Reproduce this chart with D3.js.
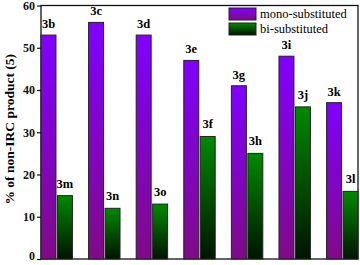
<!DOCTYPE html>
<html><head><meta charset="utf-8">
<script src="https://cdn.jsdelivr.net/npm/d3@7"></script>
<style>html,body{margin:0;padding:0;background:#fff;}svg{display:block;}</style>
</head><body>
<svg id="c" width="360" height="265"></svg>
<script>
const monoLabels = ["3b","3c","3d","3e","3g","3i","3k"];
const biLabels   = ["3m","3n","3o","3f","3h","3j","3l"];
const monoValues = [53,56,53,47,41,48,37];
const biValues   = [15,12,13,29,25,36,16];
const yTicks = [0,10,20,30,40,50,60];
const seriesNames = ["mono-substituted","bi-substituted"];
const yTitle = "% of non-IRC product (5)";

const svg = d3.select("#c");
const L = 41, R = 358, T = 5.5, B = 259;
const font = "'Liberation Serif','Times New Roman',serif";

const defs = svg.append("defs");
function grad(id, c1, c2){
  const g = defs.append("linearGradient").attr("id", id).attr("x1",0).attr("y1",0).attr("x2",0).attr("y2",1);
  g.append("stop").attr("offset","0%").attr("stop-color",c1);
  g.append("stop").attr("offset","100%").attr("stop-color",c2);
}
grad("gm", "#8000ff", "#800a88");
grad("gb", "#008a00", "#001400");

const x = d3.scaleBand().domain(d3.range(monoValues.length)).range([L, R]).paddingInner(0.34).paddingOuter(0);
const y = d3.scaleLinear().domain([0, 60]).range([B, T]);
const bw = x.bandwidth();
const barW = (bw - 1.5) / 2;

// frame
svg.append("rect").attr("x", L).attr("y", T).attr("width", R - L).attr("height", B - T)
  .attr("fill", "none").attr("stroke", "#111").attr("stroke-width", 1.3);

const g = svg.append("g");
g.selectAll(".m").data(monoValues).join("rect")
  .attr("x", (d,i) => x(i)).attr("y", d => y(d))
  .attr("width", barW).attr("height", d => B - y(d))
  .attr("fill", "url(#gm)").attr("stroke", "#222").attr("stroke-width", 1);
g.selectAll(".b").data(biValues).join("rect")
  .attr("x", (d,i) => x(i) + barW + 1.5).attr("y", d => y(d))
  .attr("width", barW).attr("height", d => B - y(d))
  .attr("fill", "url(#gb)").attr("stroke", "#222").attr("stroke-width", 1);

// labels
g.selectAll(".ml").data(monoValues).join("text")
  .attr("x", (d,i) => x(i) + barW/2).attr("y", d => y(d) - 7)
  .attr("text-anchor","middle").attr("font-family", font).attr("font-weight","bold").attr("font-size", 12.5)
  .text((d,i) => monoLabels[i]);
g.selectAll(".bl").data(biValues).join("text")
  .attr("x", (d,i) => x(i) + barW*1.5 + 1.5).attr("y", d => y(d) - 8)
  .attr("text-anchor","middle").attr("font-family", font).attr("font-weight","bold").attr("font-size", 12.5)
  .text((d,i) => biLabels[i]);

// y axis
const ya = svg.append("g").attr("transform", `translate(${L},0)`)
  .call(d3.axisLeft(y).tickValues(yTicks).tickSize(4).tickPadding(2).tickFormat(d3.format("d")));
ya.select(".domain").remove();
ya.selectAll("line").attr("stroke", "#111").attr("stroke-width", 1.2);
ya.selectAll("text").attr("font-family", font).attr("font-weight","bold").attr("font-size", 12).attr("fill","#111");
ya.selectAll(".tick").filter(d => d === 0).select("text").attr("dy", "0.05em");

svg.append("text").attr("transform", `translate(13.5,${(T+B)/2 - 3}) rotate(-90)`)
  .attr("text-anchor","middle").attr("font-family", font).attr("font-weight","bold").attr("font-size", 13.5)
  .text(yTitle);

// legend
const lg = svg.append("g");
["url(#gm)","url(#gb)"].forEach((f,i) => {
  lg.append("rect").attr("x", 229).attr("y", 8 + i*15).attr("width", 27).attr("height", 12)
    .attr("fill", f).attr("stroke","#222").attr("stroke-width",1);
  lg.append("text").attr("x", 260).attr("y", 18 + i*15).attr("font-family", font).attr("font-size", 12.5)
    .text(seriesNames[i]);
});
</script>
</body></html>
